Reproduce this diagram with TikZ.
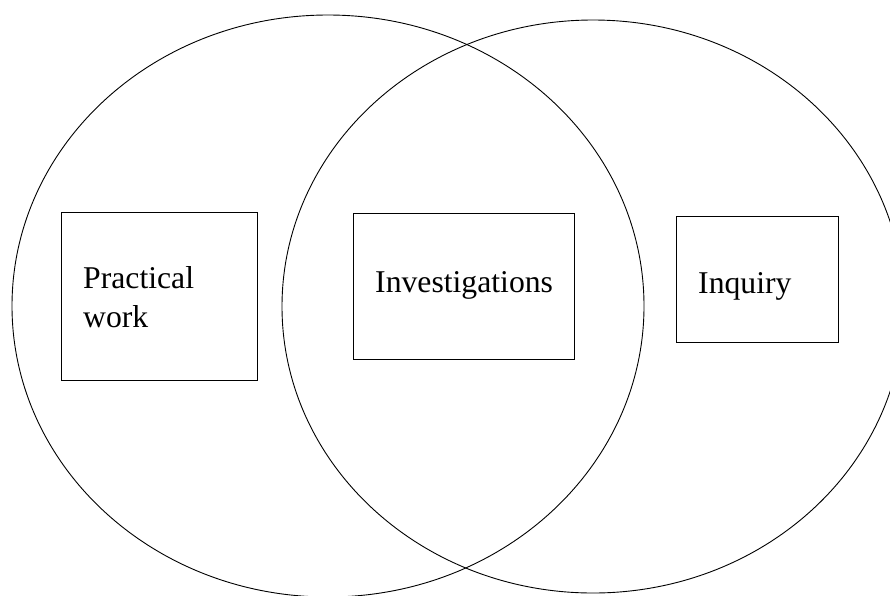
\documentclass[tikz,border=0pt]{standalone}
\usepackage{fontspec}
\setmainfont{Liberation Serif}
\begin{document}
\begin{tikzpicture}[x=1pt,y=-1pt,
  ring/.style={draw=black,line width=0.9pt},
  boxframe/.style={draw=black,line width=0.9pt,rectangle,inner sep=0pt},
  label/.style={font=\fontsize{31.7}{39}\selectfont,inner sep=0pt,anchor=base west,align=left}]
\useasboundingbox (0,0) rectangle (890,595);
\draw[ring] (328,306) ellipse [x radius=316, y radius=291];
\draw[ring] (593,306.5) ellipse [x radius=311, y radius=286.5];
% boxes
\node[boxframe,minimum width=196pt,minimum height=168pt] (pbox) at (159,296) {};
\node[boxframe,minimum width=221pt,minimum height=146pt] (ibox) at (463.5,286) {};
\node[boxframe,minimum width=162pt,minimum height=126pt] (qbox) at (757,279) {};
% texts
\node[label] (ptext) at (83,327) {Practical\\work};
\node[label] (itext) at (375,292) {Investigations};
\node[label] (qtext) at (698,293) {Inquiry};
\end{tikzpicture}
\end{document}
